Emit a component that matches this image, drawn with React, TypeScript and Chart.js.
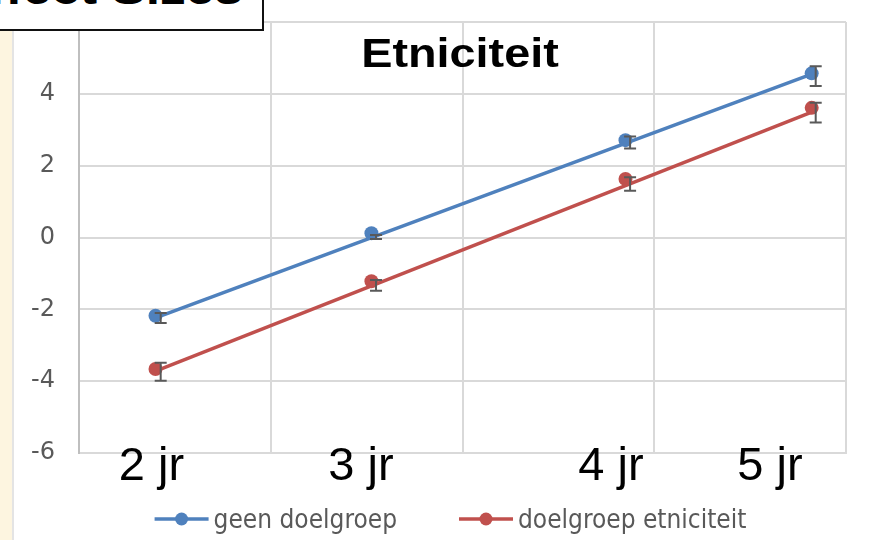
import React, { useEffect, useRef } from "react";
import { Chart, registerables } from "chart.js";

Chart.register(...registerables);

// ---------- data ----------
const categories = ["2 jr", "3 jr", "4 jr", "5 jr"];
const seriesNames = ["geen doelgroep", "doelgroep etniciteit"];
const xPositions = [0.399, 1.525, 2.85, 3.821];
const errorX = [0.426, 1.549, 2.874, 3.842];
const geenValues = [-2.18, 0.12, 2.71, 4.57];
const etnValues = [-3.66, -1.22, 1.63, 3.61];
const geenTrend = [-2.24, 4.55];
const etnTrend = [-3.72, 3.49];
const geenErrLow = [-2.38, -0.04, 2.48, 4.22];
const geenErrHigh = [-2.1, 0.07, 2.81, 4.77];
const etnErrLow = [-3.99, -1.48, 1.3, 3.2];
const etnErrHigh = [-3.49, -1.18, 1.68, 3.75];
const yMin = -6;
const yMax = 6;
const yStep = 2;
const chartTitle = "Etniciteit";
const boxTitle = "Effect Sizes";

const BLUE = "#4F81BD";
const RED = "#C0504D";

const errorBarPlugin = {
  id: "errorBars",
  afterDatasetsDraw(chart: any) {
    const ctx = chart.ctx;
    const xs = chart.scales.x;
    const ys = chart.scales.y;
    ctx.save();
    ctx.strokeStyle = "#595959";
    ctx.lineWidth = 2;
    chart.data.datasets.forEach((ds: any) => {
      const eb = ds.errorBars;
      if (!eb) return;
      for (let i = 0; i < eb.x.length; i++) {
        const px = xs.getPixelForValue(eb.x[i]);
        const top = ys.getPixelForValue(eb.high[i]);
        const bot = ys.getPixelForValue(eb.low[i]);
        ctx.beginPath();
        ctx.moveTo(px, top);
        ctx.lineTo(px, bot);
        ctx.moveTo(px - 6, top);
        ctx.lineTo(px + 6, top);
        ctx.moveTo(px - 6, bot);
        ctx.lineTo(px + 6, bot);
        ctx.stroke();
      }
    });
    ctx.restore();
  },
};

const legendPlugin = {
  id: "lineDotLegend",
  afterDraw(chart: any) {
    const ctx = chart.ctx;
    const items = chart.data.datasets.filter((d: any) => d.legendItem);
    ctx.save();
    ctx.font = "26px 'DejaVu Sans Condensed', 'DejaVu Sans', sans-serif";
    const markerW = 54;
    const gap = 5;
    const itemGap = 62;
    const widths = items.map((d: any) => markerW + gap + ctx.measureText(d.label).width);
    const total = widths.reduce((a: number, b: number) => a + b, 0) + itemGap * (items.length - 1);
    let x = chart.width / 2 + 8 - total / 2;
    const lineY = chart.height - 21;
    const textY = chart.height - 12;
    items.forEach((d: any, i: number) => {
      ctx.strokeStyle = d.borderColor;
      ctx.lineWidth = 3.5;
      ctx.beginPath();
      ctx.moveTo(x, lineY);
      ctx.lineTo(x + markerW, lineY);
      ctx.stroke();
      ctx.fillStyle = d.backgroundColor;
      ctx.beginPath();
      ctx.arc(x + markerW / 2, lineY, 6.5, 0, Math.PI * 2);
      ctx.fill();
      ctx.fillStyle = "#595959";
      ctx.textBaseline = "alphabetic";
      ctx.textAlign = "left";
      ctx.fillText(d.label, x + markerW + gap, textY);
      x += widths[i] + itemGap;
    });
    ctx.restore();
  },
};

function ChartCanvas() {
  const ref = useRef<HTMLCanvasElement | null>(null);
  useEffect(() => {
    if (!ref.current) return;
    const pts = (vals: number[]) => vals.map((v, i) => ({ x: xPositions[i], y: v }));
    const trend = (vals: number[]) => [
      { x: xPositions[0], y: vals[0] },
      { x: xPositions[xPositions.length - 1], y: vals[1] },
    ];
    const chart = new Chart(ref.current, {
      type: "scatter",
      data: {
        datasets: [
          {
            label: seriesNames[0],
            data: pts(geenValues),
            showLine: false,
            pointRadius: 7,
            pointBackgroundColor: BLUE,
            pointBorderWidth: 0,
            backgroundColor: BLUE,
            borderColor: BLUE,
            legendItem: true,
            errorBars: { x: errorX, low: geenErrLow, high: geenErrHigh },
          } as any,
          {
            label: seriesNames[1],
            data: pts(etnValues),
            showLine: false,
            pointRadius: 7,
            pointBackgroundColor: RED,
            pointBorderWidth: 0,
            backgroundColor: RED,
            borderColor: RED,
            legendItem: true,
            errorBars: { x: errorX, low: etnErrLow, high: etnErrHigh },
          } as any,
          {
            label: seriesNames[0] + " trend",
            data: trend(geenTrend),
            showLine: true,
            borderColor: BLUE,
            borderWidth: 3.5,
            pointRadius: 0,
          },
          {
            label: seriesNames[1] + " trend",
            data: trend(etnTrend),
            showLine: true,
            borderColor: RED,
            borderWidth: 3.5,
            pointRadius: 0,
          },
        ],
      },
      options: {
        animation: false,
        responsive: false,
        maintainAspectRatio: false,
        layout: { padding: { top: 22, right: 25, bottom: 87, left: 0 } },
        plugins: {
          legend: { display: false },
          title: { display: false },
          tooltip: { enabled: false },
        },
        scales: {
          x: {
            type: "linear",
            min: 0,
            max: 4,
            ticks: { display: false, stepSize: 1 },
            grid: { color: "#D9D9D9", lineWidth: 2, drawTicks: false },
            border: { display: true, color: "#D9D9D9", width: 2 },
          },
          y: {
            type: "linear",
            min: yMin,
            max: yMax,
            ticks: {
              stepSize: yStep,
              color: "#595959",
              padding: 24,
              font: { family: "'DejaVu Sans', sans-serif", size: 24 },
            },
            grid: { color: "#D9D9D9", lineWidth: 2, drawTicks: false },
            border: { display: true, color: "#BFBFBF", width: 2 },
            afterFit: (s: any) => {
              s.width = 65;
              s.paddingTop = 0;
              s.paddingBottom = 0;
            },
          },
        },
      },
      plugins: [errorBarPlugin, legendPlugin],
    });
    return () => chart.destroy();
  }, []);
  return <canvas ref={ref} width={857} height={540} style={{ display: "block" }} />;
}

const catCenters = [151.5, 361, 611, 770];

export default function App() {
  useEffect(() => {
    document.body.style.margin = "0";
  }, []);
  return (
    <div
      style={{
        position: "fixed",
        left: 0,
        top: 0,
        width: 871,
        height: 540,
        overflow: "hidden",
        background: "#FFFFFF",
      }}
    >
      <div
        style={{
          position: "absolute",
          left: 0,
          top: 0,
          width: 12,
          height: 540,
          background: "#FDF5E0",
          borderRight: "2px solid #E4E4E4",
        }}
      />
      <div style={{ position: "absolute", left: 14, top: 0, width: 857, height: 540 }}>
        <ChartCanvas />
      </div>
      <div
        style={{
          position: "absolute",
          left: 260,
          top: 32.8,
          width: 400,
          textAlign: "center",
          fontFamily: "'Liberation Sans', Arial, sans-serif",
          fontWeight: "bold",
          fontSize: 40,
          lineHeight: "40px",
          color: "#000",
          transform: "scaleX(1.17)",
          transformOrigin: "center",
          whiteSpace: "nowrap",
        }}
      >
        {chartTitle}
      </div>
      {categories.map((c, i) => (
        <div
          key={c}
          style={{
            position: "absolute",
            left: catCenters[i] - 100,
            top: 440,
            width: 200,
            textAlign: "center",
            fontFamily: "'Liberation Sans', Arial, sans-serif",
            fontSize: 47,
            lineHeight: "47px",
            color: "#000",
            whiteSpace: "nowrap",
          }}
        >
          {c}
        </div>
      ))}
      <div
        style={{
          position: "absolute",
          left: -2,
          top: -2,
          width: 266,
          height: 33,
          boxSizing: "border-box",
          border: "2px solid #111",
          background: "#FFFFFF",
          overflow: "hidden",
        }}
      >
        <div
          style={{
            position: "absolute",
            right: 19,
            top: -33,
            fontFamily: "'Liberation Sans', Arial, sans-serif",
            fontWeight: "bold",
            fontSize: 44,
            lineHeight: "44px",
            color: "#000",
            whiteSpace: "nowrap",
            transform: "scaleX(1.17)",
            transformOrigin: "right",
          }}
        >
          {boxTitle}
        </div>
      </div>
    </div>
  );
}
